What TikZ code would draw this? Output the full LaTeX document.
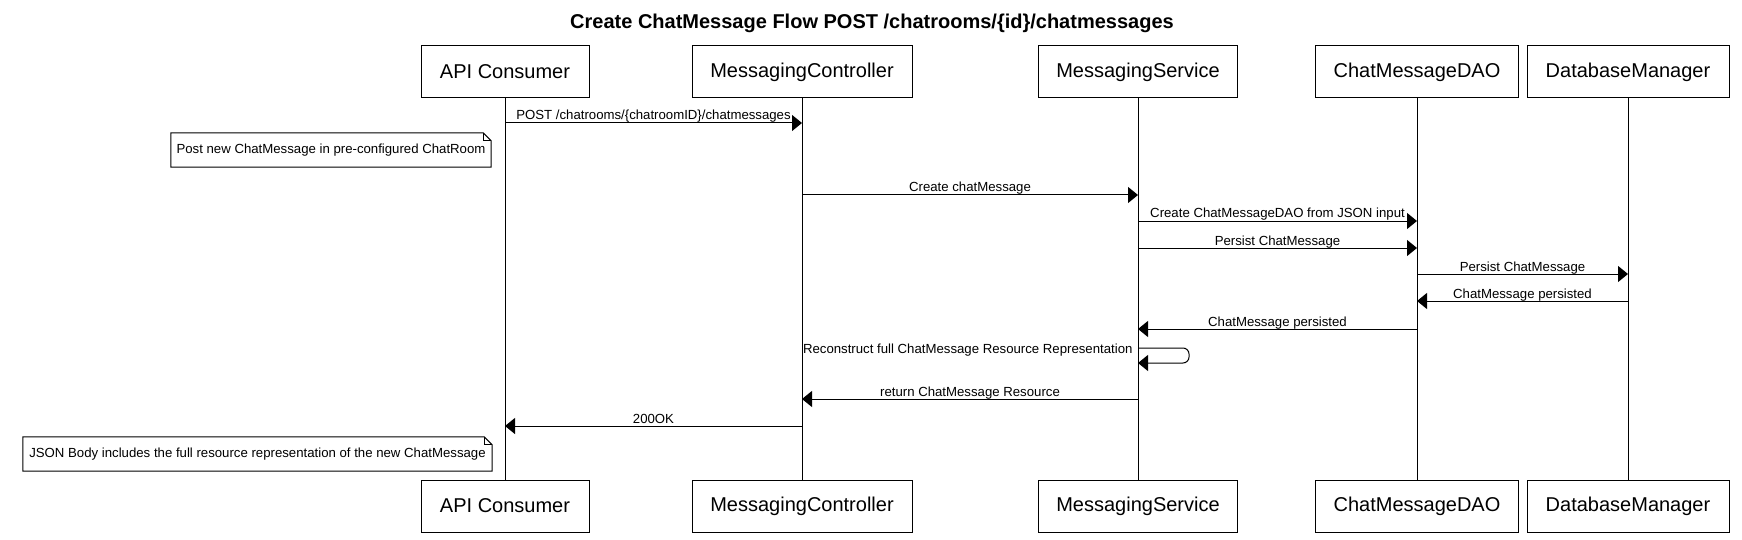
\documentclass[tikz,border=0pt]{standalone}
\usepackage{fontspec}
\setmainfont{Liberation Sans}
\usetikzlibrary{arrows.meta}

\begin{document}
\begin{tikzpicture}[
  x=1pt, y=-1pt,
  actor/.style={draw, line width=1pt, minimum height=52pt,
                inner sep=0pt, font=\fontsize{20}{23}\selectfont},
  msg/.style={line width=1pt, -{Triangle[length=10pt,width=16pt]}},
  lbl/.style={font=\fontsize{13.2}{15}\selectfont, anchor=base,
              inner sep=0pt, yshift=3pt},
  note/.style={font=\fontsize{13.2}{15}\selectfont, minimum height=34pt,
               inner sep=0pt},
  fold/.style={line width=1pt}
]
\useasboundingbox (0,0) rectangle (1742,540);

\node[font=\fontsize{20}{24}\selectfont\bfseries] (title) at (872,23)
  {Create ChatMessage Flow POST /chatrooms/\{id\}/chatmessages};

% participants, top row
\node[actor, minimum width=168pt] (consTop) at ( 505,72) {API Consumer};
\node[actor, minimum width=220pt] (ctrlTop) at ( 802,72) {MessagingController};
\node[actor, minimum width=199pt] (svcTop)  at (1138,72) {MessagingService};
\node[actor, minimum width=203pt] (daoTop)  at (1417,72) {ChatMessageDAO};
\node[actor, minimum width=202pt] (dbTop)   at (1628,72) {DatabaseManager};

% participants, bottom row
\node[actor, minimum width=168pt] (consBot) at ( 505,506) {API Consumer};
\node[actor, minimum width=220pt] (ctrlBot) at ( 802,506) {MessagingController};
\node[actor, minimum width=199pt] (svcBot)  at (1138,506) {MessagingService};
\node[actor, minimum width=203pt] (daoBot)  at (1417,506) {ChatMessageDAO};
\node[actor, minimum width=202pt] (dbBot)   at (1628,506) {DatabaseManager};

% lifelines
\draw[line width=1pt] (consTop) -- (consBot);
\draw[line width=1pt] (ctrlTop) -- (ctrlBot);
\draw[line width=1pt] (svcTop)  -- (svcBot);
\draw[line width=1pt] (daoTop)  -- (daoBot);
\draw[line width=1pt] (dbTop)   -- (dbBot);

% message rows
\coordinate (m1)  at (0,123);
\coordinate (m2)  at (0,195);
\coordinate (m3)  at (0,221);
\coordinate (m4)  at (0,248);
\coordinate (m5)  at (0,274);
\coordinate (m6)  at (0,301);
\coordinate (m7)  at (0,329);
\coordinate (s1)  at (0,348);
\coordinate (s2)  at (0,363);
\coordinate (m9)  at (0,399);
\coordinate (m10) at (0,426);

\draw[msg] (consTop |- m1) -- node[lbl]{POST /chatrooms/\{chatroomID\}/chatmessages} (ctrlTop |- m1);
\draw[msg] (ctrlTop |- m2) -- node[lbl]{Create chatMessage} (svcTop |- m2);
\draw[msg] (svcTop |- m3)  -- node[lbl]{Create ChatMessageDAO from JSON input} (daoTop |- m3);
\draw[msg] (svcTop |- m4)  -- node[lbl]{Persist ChatMessage} (daoTop |- m4);
\draw[msg] (daoTop |- m5)  -- node[lbl]{Persist ChatMessage} (dbTop |- m5);
\draw[msg] (dbTop |- m6)   -- node[lbl]{ChatMessage persisted} (daoTop |- m6);
\draw[msg] (daoTop |- m7)  -- node[lbl]{ChatMessage persisted} (svcTop |- m7);
\draw[msg, rounded corners=6pt] (svcTop |- s1)
  node[lbl, anchor=base east, xshift=-5pt, yshift=-8pt]{Reconstruct full ChatMessage Resource Representation}
  -- ++(51,0) |- (svcTop |- s2);
\draw[msg] (svcTop |- m9)  -- node[lbl]{return ChatMessage Resource} (ctrlTop |- m9);
\draw[msg] (ctrlTop |- m10) -- node[lbl]{200OK} (consTop |- m10);

% notes
\node[note, minimum width=320pt] (note1) at (331,150)
  {Post new ChatMessage in pre-configured ChatRoom};
\draw[fold] (note1.south west) -- (note1.north west) -- ([xshift=-8pt]note1.north east)
  -- ([yshift=-8pt]note1.north east) -- (note1.south east) -- cycle;
\draw[fold] ([xshift=-8pt]note1.north east) |- ([yshift=-8pt]note1.north east);

\node[note, minimum width=469pt] (note2) at (257.5,454)
  {JSON Body includes the full resource representation of the new ChatMessage};
\draw[fold] (note2.south west) -- (note2.north west) -- ([xshift=-8pt]note2.north east)
  -- ([yshift=-8pt]note2.north east) -- (note2.south east) -- cycle;
\draw[fold] ([xshift=-8pt]note2.north east) |- ([yshift=-8pt]note2.north east);
\end{tikzpicture}
\end{document}
